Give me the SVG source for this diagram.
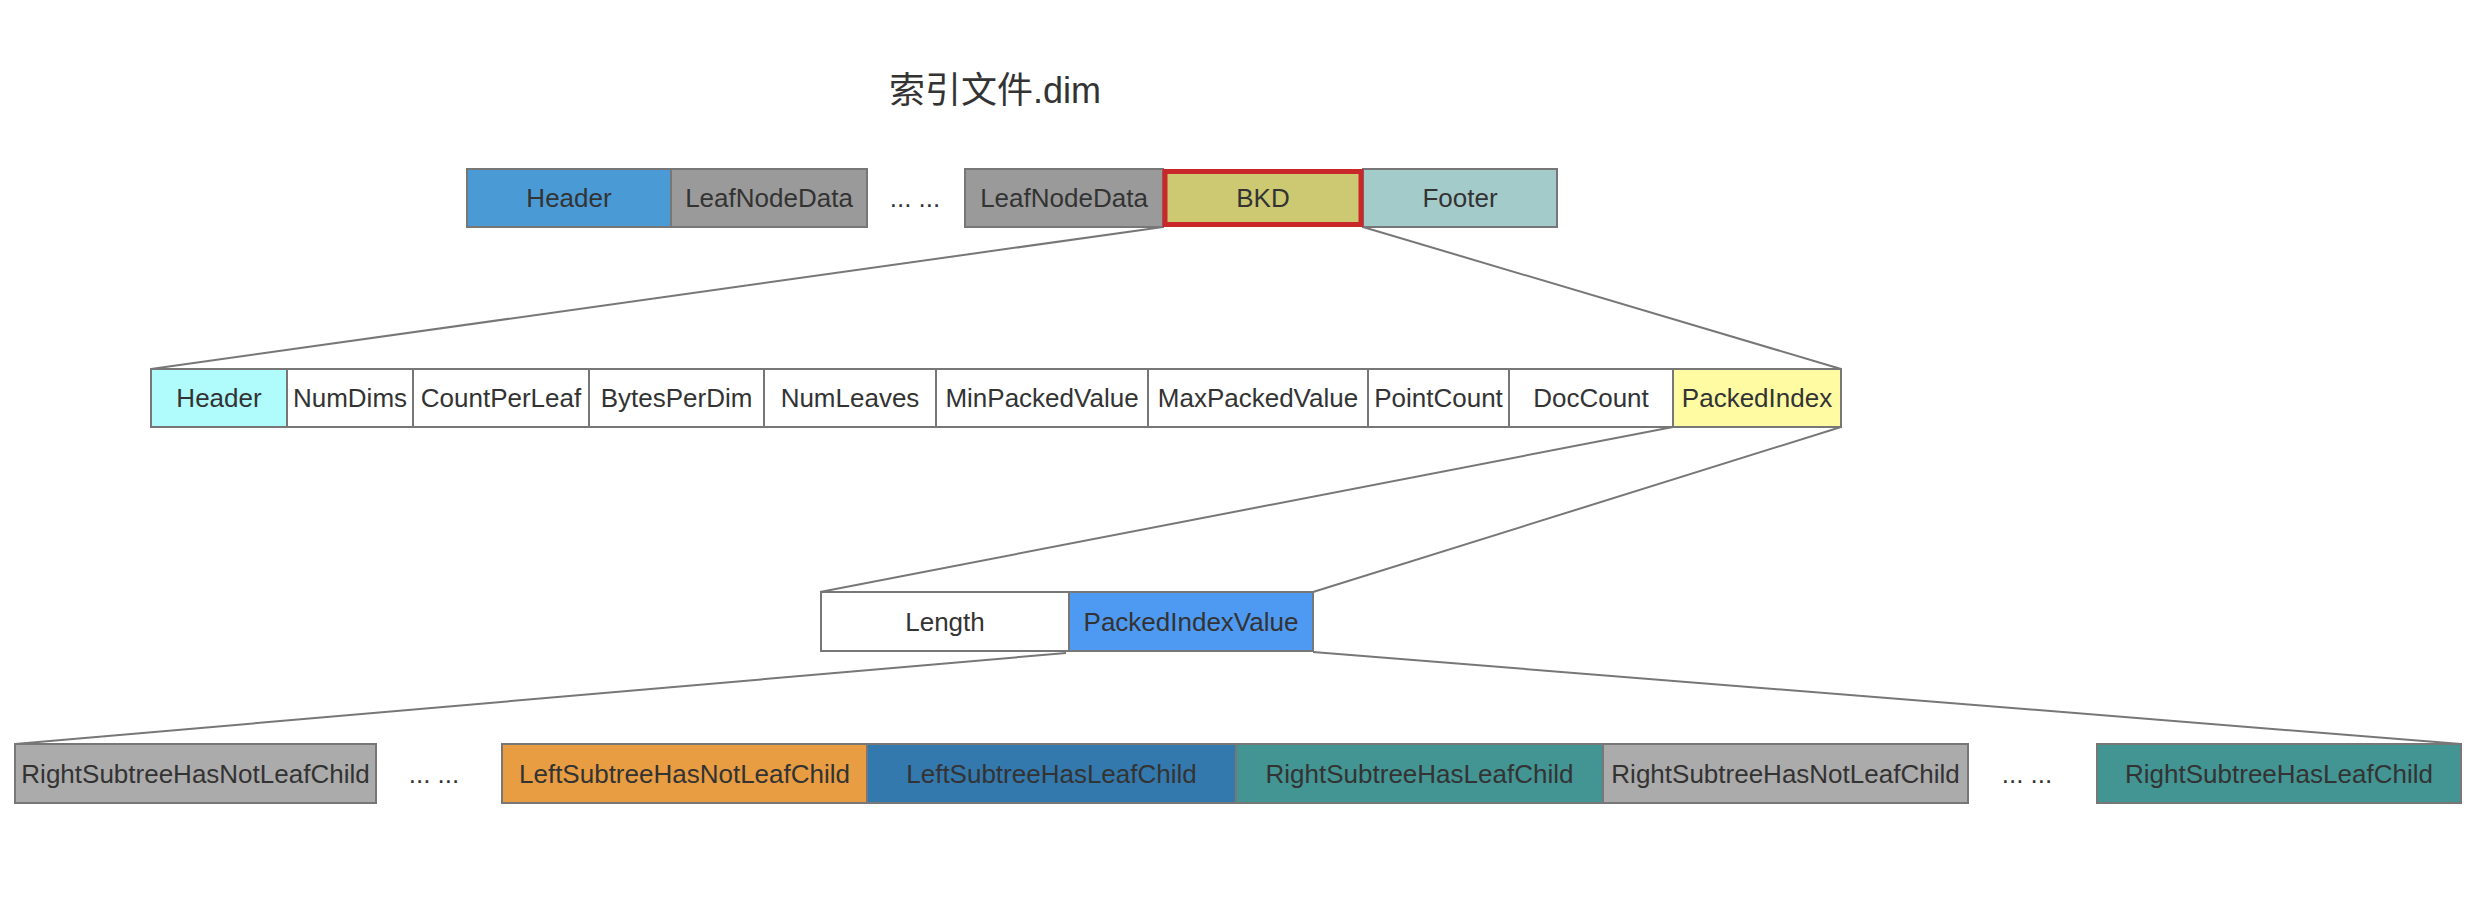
<svg xmlns="http://www.w3.org/2000/svg" width="2476" height="912" viewBox="0 0 2476 912">
<style>
.b{stroke:#777;stroke-width:2}
.t{font-family:"Liberation Sans",Arial,sans-serif;font-size:26px;fill:#333;text-anchor:middle;dominant-baseline:central}
.title{font-family:"Liberation Sans","Noto Sans CJK SC",sans-serif;font-size:36px;fill:#333;text-anchor:middle;dominant-baseline:central}
.c{stroke:#777;stroke-width:2;fill:none}
</style>
<rect width="2476" height="912" fill="#fff"/>
<text class="title" x="995" y="90">索引文件.dim</text>

<g id="connectors">
<line class="c" x1="1163" y1="227" x2="151" y2="369"/>
<line class="c" x1="1363" y1="227" x2="1841" y2="369"/>
<line class="c" x1="1673" y1="427" x2="820" y2="592"/>
<line class="c" x1="1841" y1="427" x2="1313" y2="592"/>
<line class="c" x1="1066" y1="653" x2="15" y2="744"/>
<line class="c" x1="1313" y1="652" x2="2461" y2="744"/>
</g>

<g id="row1-header"><rect class="b" x="467" y="169" width="204" height="58" fill="#4A9BD5"/><text class="t" x="569" y="198">Header</text></g>
<g id="row1-leaf1"><rect class="b" x="671" y="169" width="196" height="58" fill="#9A9A9A"/><text class="t" x="769" y="198">LeafNodeData</text></g>
<g id="row1-dots"><text class="t" x="915" y="198">... ...</text></g>
<g id="row1-leaf2"><rect class="b" x="965" y="169" width="198" height="58" fill="#9A9A9A"/><text class="t" x="1064" y="198">LeafNodeData</text></g>
<g id="row1-footer"><rect class="b" x="1363" y="169" width="194" height="58" fill="#A3CBCA"/><text class="t" x="1460" y="198">Footer</text></g>
<g id="row1-bkd"><rect x="1165" y="171.5" width="196" height="53" fill="#CDC872" stroke="#C8282A" stroke-width="5"/><text class="t" x="1263" y="198">BKD</text></g>

<g id="row2-header"><rect class="b" x="151" y="369" width="136" height="58" fill="#B0FCFC"/><text class="t" x="219" y="398">Header</text></g>
<g id="row2-numdims"><rect class="b" x="287" y="369" width="126" height="58" fill="#fff"/><text class="t" x="350" y="398">NumDims</text></g>
<g id="row2-countperleaf"><rect class="b" x="413" y="369" width="176" height="58" fill="#fff"/><text class="t" x="501" y="398">CountPerLeaf</text></g>
<g id="row2-bytesperdim"><rect class="b" x="589" y="369" width="175" height="58" fill="#fff"/><text class="t" x="676.5" y="398">BytesPerDim</text></g>
<g id="row2-numleaves"><rect class="b" x="764" y="369" width="172" height="58" fill="#fff"/><text class="t" x="850" y="398">NumLeaves</text></g>
<g id="row2-minpacked"><rect class="b" x="936" y="369" width="212" height="58" fill="#fff"/><text class="t" x="1042" y="398">MinPackedValue</text></g>
<g id="row2-maxpacked"><rect class="b" x="1148" y="369" width="220" height="58" fill="#fff"/><text class="t" x="1258" y="398">MaxPackedValue</text></g>
<g id="row2-pointcount"><rect class="b" x="1368" y="369" width="141" height="58" fill="#fff"/><text class="t" x="1438.5" y="398">PointCount</text></g>
<g id="row2-doccount"><rect class="b" x="1509" y="369" width="164" height="58" fill="#fff"/><text class="t" x="1591" y="398">DocCount</text></g>
<g id="row2-packedindex"><rect class="b" x="1673" y="369" width="168" height="58" fill="#FFFBA3"/><text class="t" x="1757" y="398">PackedIndex</text></g>

<g id="row3-length"><rect class="b" x="821" y="592" width="248" height="59" fill="#fff"/><text class="t" x="945" y="622">Length</text></g>
<g id="row3-packedindexvalue"><rect class="b" x="1069" y="592" width="244" height="59" fill="#4E9AF2"/><text class="t" x="1191" y="622">PackedIndexValue</text></g>

<g id="row4-r-notleaf-1"><rect class="b" x="15" y="744" width="361" height="59" fill="#ABABAB"/><text class="t" x="195.5" y="774">RightSubtreeHasNotLeafChild</text></g>
<g id="row4-dots-1"><text class="t" x="434" y="774">... ...</text></g>
<g id="row4-l-notleaf"><rect class="b" x="502" y="744" width="365" height="59" fill="#E89D42"/><text class="t" x="684.5" y="774">LeftSubtreeHasNotLeafChild</text></g>
<g id="row4-l-leaf"><rect class="b" x="867" y="744" width="369" height="59" fill="#3479AD"/><text class="t" x="1051.5" y="774">LeftSubtreeHasLeafChild</text></g>
<g id="row4-r-leaf-1"><rect class="b" x="1236" y="744" width="367" height="59" fill="#429593"/><text class="t" x="1419.5" y="774">RightSubtreeHasLeafChild</text></g>
<g id="row4-r-notleaf-2"><rect class="b" x="1603" y="744" width="365" height="59" fill="#ABABAB"/><text class="t" x="1785.5" y="774">RightSubtreeHasNotLeafChild</text></g>
<g id="row4-dots-2"><text class="t" x="2027" y="774">... ...</text></g>
<g id="row4-r-leaf-2"><rect class="b" x="2097" y="744" width="364" height="59" fill="#429593"/><text class="t" x="2279" y="774">RightSubtreeHasLeafChild</text></g>
</svg>
